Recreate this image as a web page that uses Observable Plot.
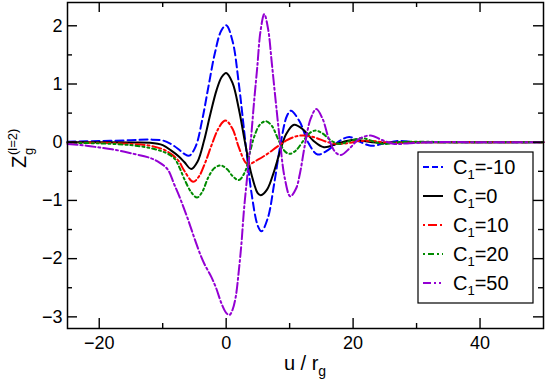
<!DOCTYPE html>
<html>
<head>
<meta charset="utf-8">
<script src="https://cdn.jsdelivr.net/npm/d3@7"></script>
<script src="https://cdn.jsdelivr.net/npm/@observablehq/plot@0.6"></script>
<style>
  html, body { margin: 0; padding: 0; background: white; }
  #chart { width: 545px; height: 384px; }
</style>
</head>
<body>
<div id="chart"></div>
<script>
// Series labels, colours and styles
const seriesLabels = ["-10", "0", "10", "20", "50"];
const seriesColors = ["#0000ff", "#000000", "#ff0000", "#008b00", "#9400d3"];
const seriesDash = ["8,4", null, "9,3,2,3", "4,3,2,3,2,3", "10,3,2,3"];
const legendDash = ["6,3", null, "2,3,9,3", "2,3,6,3", "8,3,2,3,2,3"];

// C1 = -10 (blue, dashed)
const uBlue = [-25,-20,-15,-12,-10,-8.7,-7.5,-6.6,-5.8,-4.8,-3.8,-2.8,-1.8,-0.8,0,1,2,3,4,5,5.57,6.57,7.57,8.57,9.57,10.2,11.6,13,14.4,16.1,17.7,19.4,21,22.8,25,27,30,35,40,50];
const zBlue = [0.01,0.02,0.035,0.045,0.03,-0.03,-0.12,-0.2,-0.23,-0.07,0.37,0.95,1.52,1.91,2.01,1.74,1.0,0.03,-0.88,-1.44,-1.53,-1.30,-0.71,-0.03,0.45,0.54,0.35,-0.02,-0.21,-0.13,0.01,0.09,0.01,-0.06,-0.02,0.02,0.0,0,0,0];

// C1 = 0 (black, solid)
const uBlack = [-25,-20,-15,-12,-10,-8.7,-7.5,-6.6,-5.5,-4.5,-3.5,-2.5,-1.5,-0.7,0,1,2,3,4,5,5.46,6.46,7.46,8.46,9.46,10.7,12.2,13.7,15.4,17.6,19.9,23,26,30,40,50];
const zBlack = [0,0,-0.005,-0.01,-0.05,-0.14,-0.24,-0.34,-0.46,-0.33,0.02,0.48,0.9,1.12,1.19,1.02,0.57,-0.02,-0.56,-0.88,-0.91,-0.81,-0.53,-0.17,0.14,0.30,0.21,0.03,-0.085,-0.02,0.04,0.0,-0.01,0.0,0,0];

// C1 = 10 (red, dash-dot)
const uRed = [-25,-20,-15,-12,-10,-8.7,-7.5,-6.6,-5.2,-4.3,-3.3,-2.3,-1.3,-0.5,0,1,2,3,3.5,5,6.5,8,9.5,11,12.3,14,16,17.5,19.5,21,23,26,30,40,50];
const zRed = [-0.01,-0.01,-0.03,-0.06,-0.12,-0.2,-0.32,-0.49,-0.68,-0.59,-0.35,-0.05,0.22,0.35,0.37,0.23,-0.09,-0.34,-0.38,-0.3,-0.2,-0.08,0.03,0.1,0.115,0.08,0.0,-0.03,-0.01,0.02,0.02,-0.01,0,0,0];

// C1 = 20 (green, dash-dot-dot)
const uGreen = [-25,-20,-15,-12,-10,-8.7,-8,-7.3,-6.6,-5.5,-4.6,-3.8,-2.8,-1.8,-0.8,0.2,1,2,3,3.8,4.5,5.3,6.25,7.2,8.2,9.2,10,11,12.2,13.2,14.1,15.2,16.5,17.8,19.5,21.5,23.5,25,27,30,35,40,50];
const zGreen = [-0.01,-0.02,-0.05,-0.1,-0.16,-0.23,-0.3,-0.45,-0.63,-0.86,-0.95,-0.86,-0.6,-0.44,-0.40,-0.47,-0.58,-0.65,-0.5,-0.15,0.12,0.3,0.36,0.28,0.05,-0.15,-0.2,-0.14,0.03,0.16,0.2,0.15,0.03,-0.03,0.02,0.07,0.0,-0.03,0.0,0.01,0,0,0];

// C1 = 50 (violet)
const uViolet = [-25,-22,-20,-18,-15,-12,-10.5,-9.2,-8.2,-7.2,-6.1,-5,-4,-3.3,-2.4,-1.6,-0.7,0,0.5,1,1.5,2,2.4,2.8,3.4,3.9,4.4,4.9,5.4,6,6.6,7.2,7.8,8.5,9.2,10.1,11,11.6,12.4,13.3,14.2,15.2,16.2,17.2,18.1,19.5,21,22.8,24.5,26.5,28.5,32,40,50];
const zViolet = [-0.03,-0.06,-0.09,-0.12,-0.19,-0.27,-0.35,-0.47,-0.72,-0.98,-1.3,-1.65,-1.95,-2.12,-2.3,-2.5,-2.78,-2.93,-2.97,-2.88,-2.66,-2.2,-1.75,-1.17,-0.5,0.05,0.7,1.29,1.9,2.2,1.95,1.35,0.71,0.0,-0.6,-0.93,-0.8,-0.55,-0.05,0.4,0.57,0.4,0.05,-0.17,-0.22,-0.1,0.06,0.115,0.04,-0.03,-0.02,0,0,0];

// Axis ticks
const xMajor = [-20, 0, 20, 40];
const xMinor = [-10, 10, 30];
const yMajor = [-3, -2, -1, 0, 1, 2];
const yMinor = [-2.5, -1.5, -0.5, 0.5, 1.5];
const xDomain = [-25, 50];
const yDomain = [-3.2, 2.4];

const uArrays = [uBlue, uBlack, uRed, uGreen, uViolet];
const zArrays = [zBlue, zBlack, zRed, zGreen, zViolet];
const table = [];
uArrays.forEach((us, k) => us.forEach((u, i) => table.push({series: seriesLabels[k], u, z: zArrays[k][i]})));

const FONT = "'Liberation Sans', Arial, Helvetica, sans-serif";
const W = 545, H = 384, ML = 67, MR = 2, MT = 2, MB = 56;
const frameW = W - ML - MR, frameH = H - MT - MB;
// pixel length -> data length
const pxX = (xDomain[1] - xDomain[0]) / frameW;
const pxY = (yDomain[1] - yDomain[0]) / frameH;

// inward ticks on all four sides
const xTicks = (vals, len) => [
  Plot.ruleX(vals, {x: d => d, y1: yDomain[0], y2: yDomain[0] + len * pxY, stroke: "black", strokeWidth: 1.4}),
  Plot.ruleX(vals, {x: d => d, y1: yDomain[1], y2: yDomain[1] - len * pxY, stroke: "black", strokeWidth: 1.4})
];
const yTicks = (vals, len) => [
  Plot.ruleY(vals, {y: d => d, x1: xDomain[0], x2: xDomain[0] + len * pxX, stroke: "black", strokeWidth: 1.4}),
  Plot.ruleY(vals, {y: d => d, x1: xDomain[1], x2: xDomain[1] - len * pxX, stroke: "black", strokeWidth: 1.4})
];

const plot = Plot.plot({
  width: W,
  height: H,
  marginLeft: ML,
  marginRight: MR,
  marginTop: MT,
  marginBottom: MB,
  x: {domain: xDomain},
  y: {domain: yDomain},
  style: {fontFamily: FONT, fontSize: "18px", color: "black", background: "white", overflow: "visible"},
  marks: [
    ...seriesLabels.map((s, k) => Plot.line(table.filter(d => d.series === s), {
      x: "u", y: "z", stroke: seriesColors[k], strokeWidth: 2,
      strokeDasharray: seriesDash[k] || undefined, curve: "catmull-rom"
    })),
    Plot.frame({stroke: "black", strokeWidth: 1.5}),
    ...xTicks(xMajor, 10),
    ...xTicks(xMinor, 5),
    ...yTicks(yMajor, 10),
    ...yTicks(yMinor, 5),
    Plot.axisX({ticks: xMajor, tickSize: 0, tickPadding: 8, label: null, fontSize: 18, tickFormat: d3.format("d")}),
    Plot.axisY({ticks: yMajor, tickSize: 0, tickPadding: 5, label: null, fontSize: 18, tickFormat: d3.format("d")})
  ]
});

document.getElementById("chart").appendChild(plot);

const svg = d3.select(plot);

// x axis title: u / r_g
const xt = svg.append("text").attr("x", ML + frameW / 2).attr("y", 370).attr("text-anchor", "middle")
  .attr("font-family", FONT).attr("font-size", 20).attr("fill", "black");
xt.append("tspan").text("u / r");
xt.append("tspan").attr("dy", 6).attr("font-size", 14).text("g");

// y axis title: Z_g^(l=2)
const yg = svg.append("g").attr("transform", "translate(26,168) rotate(-90)");
yg.append("text").attr("x", 0).attr("y", 0).attr("text-anchor", "start").attr("font-family", FONT).attr("font-size", 20).attr("fill", "black").text("Z");
yg.append("text").attr("x", 13).attr("y", 7).attr("text-anchor", "start").attr("font-family", FONT).attr("font-size", 13).attr("fill", "black").text("g");
yg.append("text").attr("x", 13).attr("y", -9).attr("text-anchor", "start").attr("font-family", FONT).attr("font-size", 13).attr("fill", "black").text("(l=2)");

// Legend
const lg = svg.append("g");
lg.append("rect").attr("x", 418).attr("y", 152).attr("width", 115).attr("height", 151)
  .attr("fill", "white").attr("stroke", "black").attr("stroke-width", 1.2);
seriesLabels.forEach((s, i) => {
  const y = 167 + i * 29;
  lg.append("line").attr("x1", 423).attr("x2", 443).attr("y1", y).attr("y2", y)
    .attr("stroke", seriesColors[i]).attr("stroke-width", 2)
    .attr("stroke-dasharray", legendDash[i]);
  const t = lg.append("text").attr("x", 453).attr("y", y + 7).attr("text-anchor", "start")
    .attr("font-family", FONT).attr("font-size", 20).attr("fill", "black");
  t.append("tspan").text("C");
  t.append("tspan").attr("dy", 5).attr("font-size", 13).text("1");
  t.append("tspan").attr("dy", -5).text("=" + s);
});
</script>
</body>
</html>
